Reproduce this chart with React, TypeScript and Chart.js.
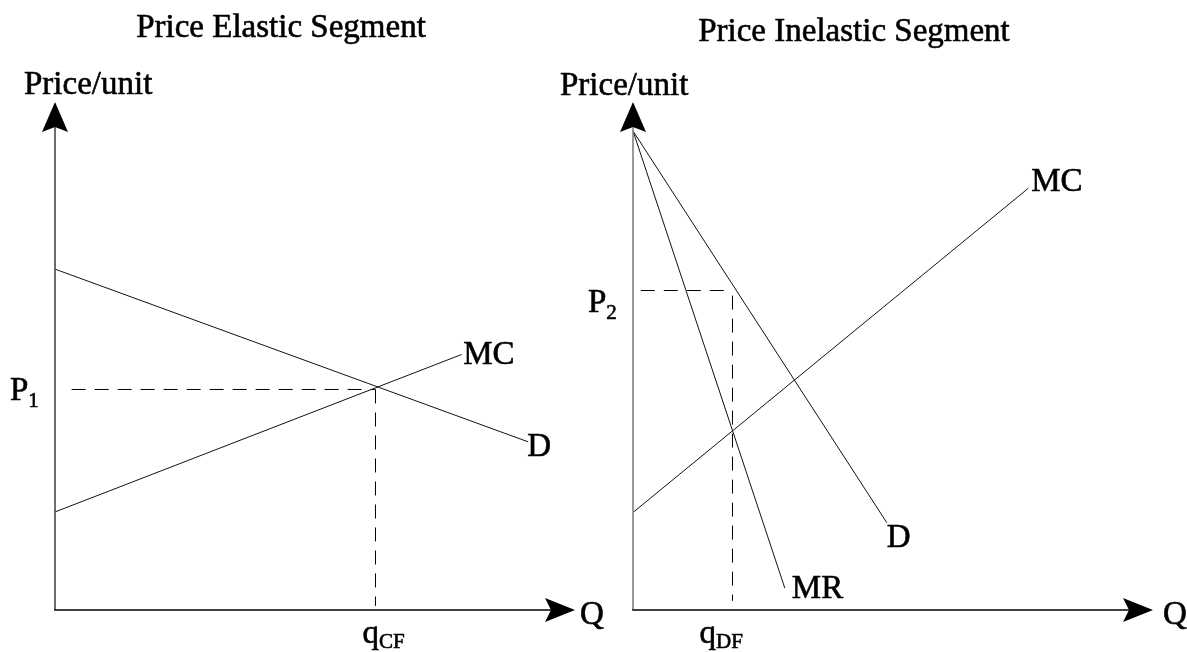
import React, { useEffect, useRef } from "react";
import { Chart, registerables } from "chart.js";

Chart.register(...registerables);

const W = 1187;
const H = 652;
const FONT = '"Liberation Serif", "Times New Roman", serif';

// ---------- Left panel: Price Elastic Segment (quantity 0..100, price 0..100) ----------
const elasticDemandQ = [0, 91.0];
const elasticDemandP = [67.1, 33.1];
const elasticMcQ = [0, 78.2];
const elasticMcP = [19.3, 50.3];
const elasticP1 = 43.41;
const elasticQcf = 61.63;
const elasticDashStartQ = 3.2;

// ---------- Right panel: Price Inelastic Segment ----------
const inelasticDemandQ = [0, 48.8];
const inelasticDemandP = [94.3, 17.2];
const inelasticMrQ = [0, 29.2];
const inelasticMrP = [94.3, 4.3];
const inelasticMcQ = [0, 76.0];
const inelasticMcP = [19.2, 83.0];
const inelasticP2 = 62.89;
const inelasticQdf = 19.13;
const inelasticDashStartQ = 1.5;

const axisMax = 100;

type Pt = { x: number; y: number };
const pts = (xs: number[], ys: number[]): Pt[] => xs.map((x, i) => ({ x, y: ys[i] }));

const solid = (data: Pt[]) => ({
  data,
  showLine: true,
  borderColor: "#111",
  borderWidth: 1,
  pointRadius: 0,
  fill: false,
});
const dashed = (data: Pt[]) => ({
  data,
  showLine: true,
  borderColor: "#000",
  borderWidth: 1,
  borderDash: [14, 9],
  pointRadius: 0,
  fill: false,
});

type Label = {
  text: string;
  sub?: string;
  ax: number;
  ay: number;
  dx: number;
  dy: number;
  subDy?: number;
};

type PanelCfg = {
  title: string;
  titleX: number;
  titleY: number;
  yAxisColor: string;
  labels: Label[];
};

function heavyText(ctx: CanvasRenderingContext2D, s: string, x: number, y: number) {
  ctx.fillText(s, x, y);
  ctx.strokeText(s, x, y);
}

function panelPlugin(cfg: PanelCfg) {
  return {
    id: "panelDecor",
    afterDatasetsDraw(chart: any) {
      const ctx: CanvasRenderingContext2D = chart.ctx;
      const xs = chart.scales.x;
      const ys = chart.scales.y;
      const x0 = xs.getPixelForValue(0);
      const y0 = ys.getPixelForValue(0);
      const xTip = xs.getPixelForValue(axisMax);
      const yTip = ys.getPixelForValue(axisMax);
      ctx.save();
      // y axis
      ctx.lineWidth = 1.6;
      ctx.strokeStyle = cfg.yAxisColor;
      ctx.beginPath();
      ctx.moveTo(x0, y0);
      ctx.lineTo(x0, yTip + 24);
      ctx.stroke();
      // x axis
      ctx.strokeStyle = "#000";
      ctx.beginPath();
      ctx.moveTo(x0 - 0.8, y0);
      ctx.lineTo(xTip - 24, y0);
      ctx.stroke();
      // arrowheads
      ctx.fillStyle = "#000";
      ctx.beginPath();
      ctx.moveTo(x0, yTip);
      ctx.lineTo(x0 + 13, yTip + 30);
      ctx.lineTo(x0, yTip + 25);
      ctx.lineTo(x0 - 13, yTip + 30);
      ctx.closePath();
      ctx.fill();
      ctx.beginPath();
      ctx.moveTo(xTip, y0);
      ctx.lineTo(xTip - 30, y0 - 12);
      ctx.lineTo(xTip - 24, y0);
      ctx.lineTo(xTip - 30, y0 + 12);
      ctx.closePath();
      ctx.fill();

      // texts
      ctx.fillStyle = "#000";
      ctx.strokeStyle = "#000";
      ctx.lineWidth = 0.6;
      ctx.lineJoin = "round";
      ctx.textBaseline = "alphabetic";
      ctx.font = `33px ${FONT}`;
      ctx.textAlign = "center";
      heavyText(ctx, cfg.title, cfg.titleX, cfg.titleY);
      ctx.textAlign = "left";
      for (const l of cfg.labels) {
        const px = xs.getPixelForValue(l.ax) + l.dx;
        const py = ys.getPixelForValue(l.ay) + l.dy;
        ctx.font = `33px ${FONT}`;
        heavyText(ctx, l.text, px, py);
        if (l.sub) {
          const w = ctx.measureText(l.text).width;
          ctx.font = `21px ${FONT}`;
          heavyText(ctx, l.sub, px + w, py + (l.subDy ?? 6));
        }
      }
      ctx.restore();
    },
  };
}

function makeChart(canvas: HTMLCanvasElement, datasets: any[], padLeft: number, padRight: number, cfg: PanelCfg) {
  return new Chart(canvas, {
    type: "scatter",
    data: { datasets },
    options: {
      animation: false,
      responsive: false,
      devicePixelRatio: 1,
      layout: { padding: { left: padLeft, right: padRight, top: 102, bottom: 42 } },
      plugins: { legend: { display: false }, tooltip: { enabled: false }, title: { display: false } },
      scales: {
        x: { type: "linear", min: 0, max: axisMax, display: false },
        y: { type: "linear", min: 0, max: axisMax, display: false },
      },
      events: [],
    },
    plugins: [panelPlugin(cfg)],
  } as any);
}

export default function App() {
  const leftRef = useRef<HTMLCanvasElement>(null);
  const rightRef = useRef<HTMLCanvasElement>(null);

  useEffect(() => {
    const leftDatasets = [
      solid(pts(elasticDemandQ, elasticDemandP)),
      solid(pts(elasticMcQ, elasticMcP)),
      dashed([
        { x: elasticDashStartQ, y: elasticP1 },
        { x: elasticQcf, y: elasticP1 },
      ]),
      dashed([
        { x: elasticQcf, y: elasticP1 },
        { x: elasticQcf, y: 0.8 },
      ]),
    ];
    const leftCfg: PanelCfg = {
      title: "Price Elastic Segment",
      titleX: 281,
      titleY: 37,
      yAxisColor: "#4a4a4a",
      labels: [
        { text: "Price/unit", ax: 0, ay: axisMax, dx: -31, dy: -8 },
        { text: "Q", ax: axisMax, ay: 0, dx: 5, dy: 14 },
        { text: "MC", ax: elasticMcQ[1], ay: elasticMcP[1], dx: 1.5, dy: 10 },
        { text: "D", ax: elasticDemandQ[1], ay: elasticDemandP[1], dx: -1, dy: 14 },
        { text: "P", sub: "1", ax: 0, ay: elasticP1, dx: -45, dy: 11, subDy: 7 },
        { text: "q", sub: "CF", ax: elasticQcf, ay: 0, dx: -13, dy: 33, subDy: 5 },
      ],
    };

    const rightDatasets = [
      solid(pts(inelasticDemandQ, inelasticDemandP)),
      solid(pts(inelasticMrQ, inelasticMrP)),
      solid(pts(inelasticMcQ, inelasticMcP)),
      dashed([
        { x: inelasticDashStartQ, y: inelasticP2 },
        { x: inelasticQdf, y: inelasticP2 },
      ]),
      dashed([
        { x: inelasticQdf, y: inelasticP2 - 1 },
        { x: inelasticQdf, y: 1.8 },
      ]),
    ];
    const rightCfg: PanelCfg = {
      title: "Price Inelastic Segment",
      titleX: 854,
      titleY: 41,
      yAxisColor: "#808080",
      labels: [
        { text: "Price/unit", ax: 0, ay: axisMax, dx: -73, dy: -7 },
        { text: "Q", ax: axisMax, ay: 0, dx: 10, dy: 14 },
        { text: "MC", ax: inelasticMcQ[1], ay: inelasticMcP[1], dx: 3, dy: 3 },
        { text: "D", ax: inelasticDemandQ[1], ay: inelasticDemandP[1], dx: 0, dy: 24 },
        { text: "MR", ax: inelasticMrQ[1], ay: inelasticMrP[1], dx: 7, dy: 10 },
        { text: "P", sub: "2", ax: 0, ay: inelasticP2, dx: -45, dy: 21, subDy: 7 },
        { text: "q", sub: "DF", ax: inelasticQdf, ay: 0, dx: -33, dy: 33, subDy: 5 },
      ],
    };

    const c1 = makeChart(leftRef.current!, leftDatasets, 55, W - 575, leftCfg);
    const c2 = makeChart(rightRef.current!, rightDatasets, 633, W - 1153, rightCfg);
    return () => {
      c1.destroy();
      c2.destroy();
    };
  }, []);

  const canvasStyle: React.CSSProperties = {
    position: "absolute",
    left: 0,
    top: 0,
    width: W,
    height: H,
  };

  return (
    <div style={{ position: "fixed", left: 0, top: 0, width: W, height: H, background: "#fff", overflow: "hidden" }}>
      <canvas ref={leftRef} width={W} height={H} style={canvasStyle} />
      <canvas ref={rightRef} width={W} height={H} style={canvasStyle} />
    </div>
  );
}
